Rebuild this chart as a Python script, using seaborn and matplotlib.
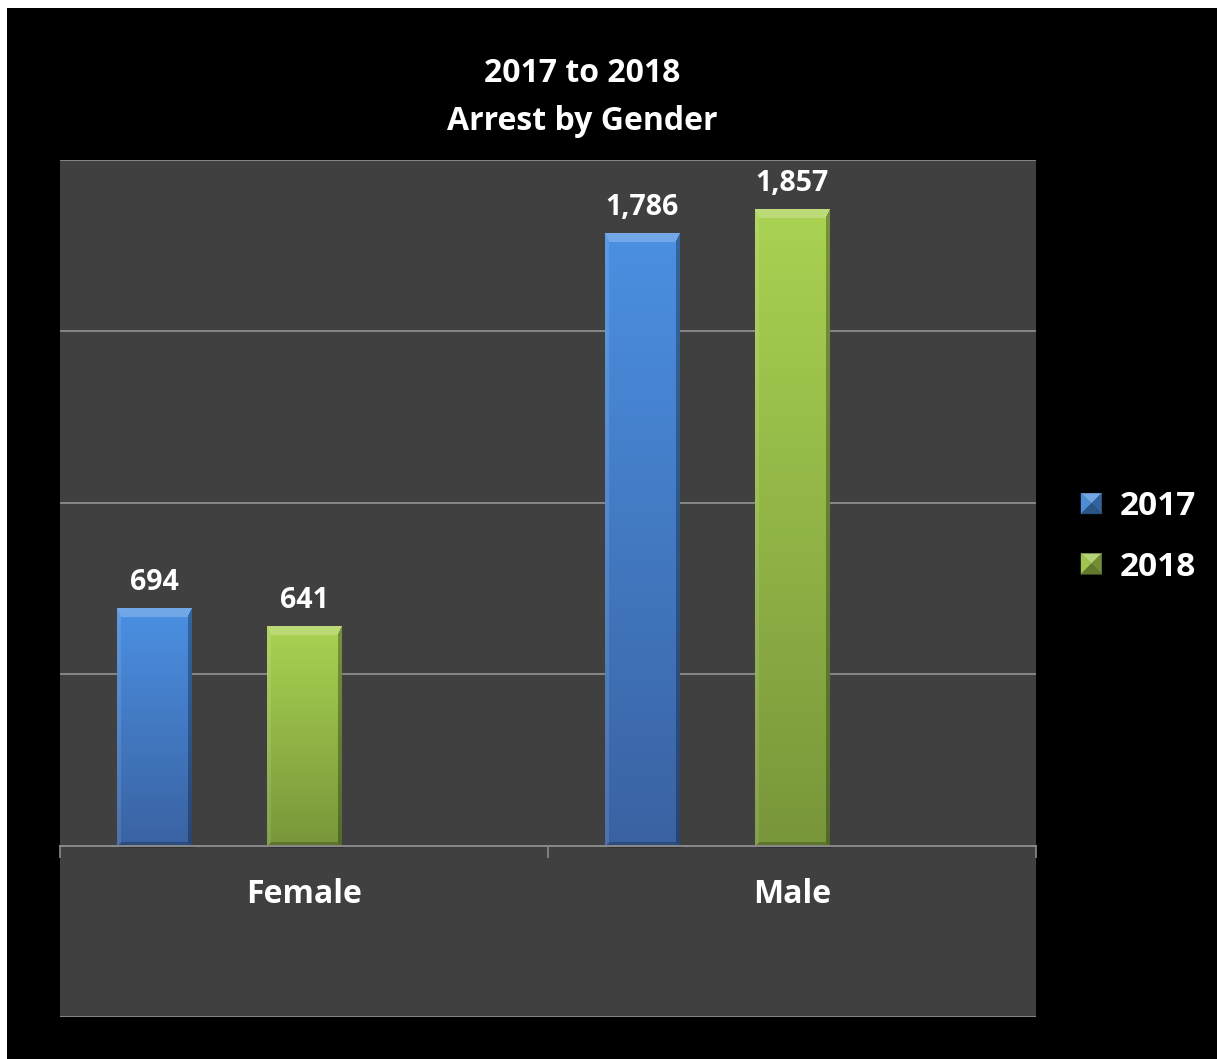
import numpy as np
import pandas as pd
import matplotlib
matplotlib.use("Agg")
import matplotlib.pyplot as plt
from matplotlib.patches import Rectangle, Polygon
from matplotlib.legend_handler import HandlerBase
import seaborn as sns

# Arrest counts by gender for two years
genders = ["Female", "Male"]
years = ["2017", "2018"]
arrests_2017 = [694, 1786]
arrests_2018 = [641, 1857]

df = pd.DataFrame({
    "Gender": genders * 2,
    "Year": [years[0]] * 2 + [years[1]] * 2,
    "Arrests": arrests_2017 + arrests_2018,
})

sns.set_theme(style="dark")
plt.rcParams["font.family"] = ["Open Sans", "DejaVu Sans"]

W, H, DPI = 1217, 1059, 100
fig = plt.figure(figsize=(W / DPI, H / DPI), dpi=DPI, facecolor="black")
ax = fig.add_axes([60 / W, 1 - 1017 / H, (1036 - 60) / W, (1017 - 160) / H])
ax.set_facecolor("#404040")

palette = {"2017": "#4689d8", "2018": "#9fc449", " ": "#404040"}
grad = {
    "2017": ("#4b90e2", "#3a62a2"),
    "2018": ("#aad252", "#78963a"),
}

sns.barplot(data=df, x="Gender", y="Arrests", hue="Year",
            hue_order=years + [" "], order=genders, palette=palette,
            width=0.922, gap=0.5, legend=False, ax=ax, linewidth=0,
            saturation=1, zorder=3)

ax.set_xlim(-0.5, 1.5)
ax.set_ylim(-500, 2000)

# horizontal grid
ax.set_yticks([-500, 500, 1000, 1500, 2000])
ax.set_yticklabels([])
ax.tick_params(axis="y", length=0)
ax.grid(axis="y", color="#868686", linewidth=1.4, zorder=1)
ax.set_axisbelow(True)

for s in ["left", "right", "top"]:
    ax.spines[s].set_visible(False)
ax.spines["bottom"].set_position(("data", 0))
ax.spines["bottom"].set_color("#8a8a8a")
ax.spines["bottom"].set_linewidth(1.4)
ax.spines["bottom"].set_zorder(4)

ax.set_xticks([0, 1])
ax.set_xticklabels(genders, fontsize=23, fontweight="bold", color="white")
ax.set_xticks([-0.5, 0.5, 1.5], minor=True)
ax.tick_params(axis="x", which="major", length=0, pad=23)
ax.tick_params(axis="x", which="minor", length=8.6, width=1.2,
               color="#8a8a8a", direction="out", bottom=True)
ax.set_xlabel("")
ax.set_ylabel("")


def hex2rgb(h):
    return np.array(matplotlib.colors.to_rgb(h))


def bevel_image(wp, hp, top_c, bot_c):
    rows = np.arange(hp)[:, None]
    cols = np.arange(wp)[None, :]
    t = rows / max(hp - 1, 1)
    base = hex2rgb(top_c)[None, None, :] * (1 - t[..., None]) + \
        hex2rgb(bot_c)[None, None, :] * t[..., None]
    base = np.broadcast_to(base, (hp, wp, 3)).copy()
    dt = rows / 9.0 + 0 * cols
    db = (hp - 1 - rows) / 4.0 + 0 * cols
    dl = cols / 4.0 + 0 * rows
    dr = (wp - 1 - cols) / 4.0 + 0 * rows
    stack = np.stack([dt, dl, dr, db])
    face = np.argmin(stack, axis=0)
    inside = stack.min(axis=0) < 1
    white = np.ones(3)
    black = np.zeros(3)
    out = base.copy()
    m = inside & (face == 0)
    out[m] = base[m] * 0.78 + white * 0.22
    m = inside & (face == 1)
    out[m] = base[m] * 0.9 + white * 0.1
    m = inside & (face == 2)
    out[m] = base[m] * 0.7 + black * 0.3
    m = inside & (face == 3)
    out[m] = base[m] * 0.78 + black * 0.22
    return np.clip(out, 0, 1)


# shaded bar faces and value labels
for cont, yr in zip(ax.containers[:2], years):
    for p in cont.patches:
        x0, y0 = p.get_x(), p.get_y()
        w, h = p.get_width(), p.get_height()
        (px0, py0), (px1, py1) = ax.transData.transform([(x0, y0), (x0 + w, y0 + h)])
        wp, hp = max(int(round(px1 - px0)), 2), max(int(round(py1 - py0)), 2)
        img = bevel_image(wp, hp, *grad[yr])
        # soft shadow under the bar
        ax.add_patch(Rectangle((x0 + w * 0.03, y0 - 8), w, 8, color="black",
                               alpha=0.18, zorder=2.5, linewidth=0))
        ax.imshow(img, extent=[x0, x0 + w, y0, y0 + h], origin="upper",
                  aspect="auto", interpolation="bilinear", zorder=3.2)
    ax.bar_label(cont, labels=[f"{int(v):,}" for v in cont.datavalues],
                 padding=8, fontsize=20.5, fontweight="bold", color="white")

ax.set_xlim(-0.5, 1.5)
ax.set_ylim(-500, 2000)


class PyramidHandler(HandlerBase):
    def create_artists(self, legend, orig_handle, xdescent, ydescent,
                       width, height, fontsize, trans):
        s = min(width, height)
        x0 = -xdescent + (width - s) / 2
        y0 = -ydescent + (height - s) / 2
        cx, cy = x0 + s / 2, y0 + s / 2
        c = hex2rgb(matplotlib.colors.to_hex(orig_handle.get_facecolor()))
        light = np.clip(c * 0.75 + 0.25, 0, 1)
        mid = np.clip(c * 0.95 + 0.04, 0, 1)
        dark = np.clip(c * 0.72, 0, 1)
        darker = np.clip(c * 0.62, 0, 1)
        tl, tr = (x0, y0 + s), (x0 + s, y0 + s)
        bl, br = (x0, y0), (x0 + s, y0)
        ctr = (cx, cy)
        faces = [([tl, tr, ctr], light), ([tl, bl, ctr], mid),
                 ([tr, br, ctr], dark), ([bl, br, ctr], darker)]
        return [Polygon(v, closed=True, facecolor=col, edgecolor=col,
                        linewidth=0.3, transform=trans) for v, col in faces]


handles = [Rectangle((0, 0), 1, 1, facecolor=palette[y]) for y in years]
leg = fig.legend(handles, years, loc="center left",
                 bbox_to_anchor=(1051 / W, 1 - 537 / H),
                 frameon=False,
                 prop={"family": ["Open Sans", "DejaVu Sans"],
                       "weight": "bold", "size": 24},
                 labelcolor="white", handlelength=0.62, handleheight=0.62,
                 handletextpad=0.55, labelspacing=0.82,
                 handler_map={Rectangle: PyramidHandler()})

fig.text(582 / W, 1 - 74 / H, "2017 to 2018", ha="center", va="center",
         fontsize=23, fontweight="bold", color="white")
fig.text(582 / W, 1 - 121 / H, "Arrest by Gender", ha="center", va="center",
         fontsize=23, fontweight="bold", color="white")

# white margin along the top and left edges
fig.patches.append(Rectangle((0, 1 - 8 / H), 1, 8 / H, transform=fig.transFigure,
                             facecolor="white", edgecolor="none", zorder=0))
fig.patches.append(Rectangle((0, 0), 7 / W, 1, transform=fig.transFigure,
                             facecolor="white", edgecolor="none", zorder=0))

fig.savefig("out.png", dpi=DPI, facecolor="black")
